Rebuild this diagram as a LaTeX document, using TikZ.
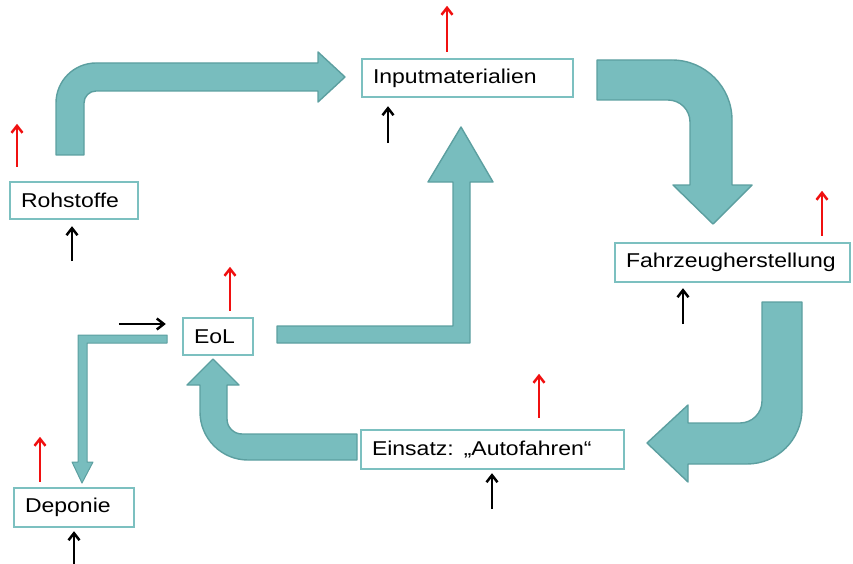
\documentclass[tikz,border=0pt]{standalone}
\usepackage{fontspec}
\setmainfont{Liberation Sans}[FakeStretch=1.15]
\usepackage{tikz}
\usetikzlibrary{arrows.meta}
\definecolor{tealfill}{HTML}{78BDBE}
\definecolor{tealline}{HTML}{5C9FA0}
\definecolor{boxline}{HTML}{7CC0C0}
\definecolor{upred}{HTML}{F01010}
\tikzset{
	stage/.style={draw=boxline, line width=2.4pt, fill=white, inner xsep=11pt, inner ysep=0pt, align=left, font=\fontsize{20}{24}\selectfont},
	bigarrow/.style={fill=tealfill, draw=tealline, line width=1.4pt, line join=round},
	redup/.style={draw=upred, line width=2.5pt, -{Straight Barb[length=7pt,width=11pt]}},
	blackup/.style={draw=black, line width=2.5pt, -{Straight Barb[length=7pt,width=11pt]}}
}

\begin{document}
\begin{tikzpicture}[x=1pt, y=-1pt]
			%%%%% START %%%%%
			\useasboundingbox (0,0) rectangle (853,564);
			
			\node[stage, text width=189pt, minimum height=38pt] (inp) at (467.5, 78) {Inputmaterialien};
			\node[stage, text width=106pt, minimum height=37pt] (roh) at (74, 200.5) {Rohstoffe};
			\node[stage, text width=213pt, minimum height=39pt] (fzh) at (732.5, 262.5) {Fahrzeugherstellung};
			\node[stage, text width=48pt, minimum height=37pt] (eol) at (218, 336.5) {EoL};
			\node[stage, text width=241pt, minimum height=39pt] (eins) at (492.5, 449.5) {Einsatz: „Autofahren“};
			\node[stage, text width=98pt, minimum height=39pt] (dep) at (74, 507.5) {Deponie};
			
			% Rohstoffe -> Inputmaterialien
			\draw[bigarrow] (56,155) [rounded corners=40] -- (56,63) [sharp corners] -- (318,63) -- (318,52) -- (345,77) -- (318,102) -- (318,91) [rounded corners=12] -- (84,91) [sharp corners] -- (84,155) -- cycle;
			
			% Inputmaterialien -> Fahrzeugherstellung
			\draw[bigarrow] (597,60) [rounded corners=60] -- (732,60) [sharp corners] -- (732,185) -- (752,185) -- (713,224) -- (673,185) -- (690,185) [rounded corners=22] -- (690,100) [sharp corners] -- (597,100) -- cycle;
			
			% Fahrzeugherstellung -> Einsatz
			\draw[bigarrow] (762,302) -- (802,302) [rounded corners=55] -- (802,464) [sharp corners] -- (688,464) -- (688,482) -- (647,443) -- (688,405) -- (688,423) [rounded corners=22] -- (762,423) [sharp corners] -- cycle;
			
			% Einsatz -> EoL
			\draw[bigarrow] (357,434) -- (357,460) [rounded corners=48] -- (200,460) [sharp corners] -- (200,385) -- (187,385) -- (213,359) -- (239,385) -- (227,385) [rounded corners=15] -- (227,434) [sharp corners] -- cycle;
			
			% EoL -> Inputmaterialien
			\draw[bigarrow] (277,326) -- (453,326) -- (453,182) -- (428,182) -- (461,127) -- (493,182) -- (470,182) -- (470,343) -- (277,343) -- cycle;
			
			% EoL -> Deponie
			\draw[bigarrow, line width=1pt] (167,335) -- (78,335) -- (78,462) -- (72,462) -- (82,483) -- (93,462) -- (87,462) -- (87,343) -- (167,343) -- cycle;
			
			% small arrows
			\draw[redup] ([shift={(-20.5,-6)}]inp.north) -- ++(0,-46);
			\draw[blackup] ([shift={(-79.5,45)}]inp.south) -- ++(0,-37);
			\draw[redup] ([shift={(-57,-14)}]roh.north) -- ++(0,-43);
			\draw[blackup] ([shift={(-2,41)}]roh.south) -- ++(0,-35);
			\draw[redup] ([shift={(89.5,-6)}]fzh.north) -- ++(0,-45);
			\draw[blackup] ([shift={(-49.5,41)}]fzh.south) -- ++(0,-36);
			\draw[redup] ([shift={(12,-6)}]eol.north) -- ++(0,-44);
			\draw[blackup] ([shift={(-63,-12.5)}]eol.west) -- ++(47,0);
			\draw[redup] ([shift={(46.5,-11)}]eins.north) -- ++(0,-44);
			\draw[blackup] ([shift={(-0.5,39)}]eins.south) -- ++(0,-36);
			\draw[redup] ([shift={(-34,-5)}]dep.north) -- ++(0,-45);
			\draw[blackup] ([shift={(0,37)}]dep.south) -- ++(0,-34);
			
			%%%%% END %%%%%
\end{tikzpicture}
\end{document}
